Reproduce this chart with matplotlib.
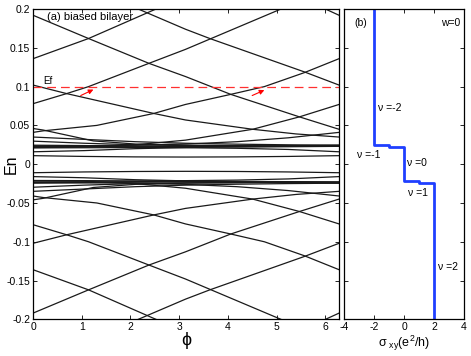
import numpy as np
import matplotlib.pyplot as plt

plt.rcParams['font.family'] = ['Liberation Sans', 'DejaVu Sans']
plt.rcParams['axes.unicode_minus'] = False
plt.rcParams['mathtext.default'] = 'regular'

# ---- panel (a): levels (upper half, E > 0) ----
# straight-ish levels, each as (phi, En) points
l0_phi = [5.90, 6.283]
l0_E = [0.203, 0.192]
l1_phi = [0, 1.14, 2.38, 3.13, 4.06, 5.47, 6.283]
l1_E = [0.192, 0.162, 0.130, 0.113, 0.090, 0.061, 0.045]
l2_phi = [0, 1.14, 2.45, 2.60]
l2_E = [0.136, 0.162, 0.198, 0.202]
l3_phi = [0, 0.69, 1.14, 2.38, 3.13, 5.09, 5.20]
l3_E = [0.078, 0.091, 0.100, 0.130, 0.148, 0.200, 0.203]
l4_phi = [2.05, 3.13, 3.63, 5.57, 6.283]
l4_E = [0.203, 0.174, 0.162, 0.119, 0.102]
l5_phi = [0, 0.21, 1.31, 2.48, 3.13, 4.06, 4.75, 5.57, 6.283]
l5_E = [0.041, 0.043, 0.050, 0.0654, 0.077, 0.090, 0.100, 0.118, 0.136]
l6_phi = [0, 0.69, 2.48, 3.13, 4.51, 5.40, 6.283]
l6_E = [0.102, 0.091, 0.0654, 0.057, 0.045, 0.039, 0.035]
l7_phi = [0, 1.05, 2.10, 3.13, 4.51, 5.47, 6.283]
l7_E = [0.0215, 0.022, 0.025, 0.031, 0.045, 0.061, 0.077]
l10_phi = [0, 0.21, 1.24, 2.10, 3.14, 4.19, 5.24, 6.283]
l10_E = [0.046, 0.044, 0.030, 0.026, 0.0245, 0.024, 0.0235, 0.0235]

# nearly flat levels in the dense band, on a common phi grid
band_phi = [0, 1.05, 2.10, 3.14, 4.19, 5.24, 6.283]
band_u1 = [0.0110, 0.0100, 0.0094, 0.0092, 0.0094, 0.0100, 0.0110]
band_u2 = [0.0160, 0.0175, 0.0200, 0.0215, 0.0225, 0.0230, 0.0235]
band_u3 = [0.0210, 0.0212, 0.0215, 0.0212, 0.0205, 0.0190, 0.0160]
band_u4 = [0.0230, 0.0228, 0.0225, 0.0222, 0.0222, 0.0225, 0.0230]
band_u5 = [0.0245, 0.0240, 0.0232, 0.0228, 0.0230, 0.0238, 0.0245]
band_u6 = [0.0297, 0.0270, 0.0250, 0.0240, 0.0235, 0.0232, 0.0230]
band_u7 = [0.0350, 0.0320, 0.0290, 0.0270, 0.0258, 0.0250, 0.0245]
band_u8 = [0.0235, 0.0238, 0.0245, 0.0260, 0.0290, 0.0340, 0.0410]

Ef = 0.1

# ---- panel (b): Hall conductance steps ----
sigma = [-2, -2, -1, -1, 0, 0, 1, 1, 2, 2]
sigma_E = [0.2, 0.0245, 0.0245, 0.0223, 0.0223, -0.0220, -0.0220, -0.0245, -0.0245, -0.2]
nu_labels = ['ν =-2', 'ν =-1', 'ν =0', 'ν =1', 'ν =2']
nu_x = [-1.75, -3.15, 0.2, 0.25, 2.25]
nu_y = [0.072, 0.0115, 0.0013, -0.037, -0.1325]

fig = plt.figure(figsize=(4.71, 3.56), dpi=100)
ax = fig.add_axes([0.0701, 0.103, 0.6497, 0.8716])
ax2 = fig.add_axes([0.7304, 0.103, 0.2548, 0.8716])

levels = [(l0_phi, l0_E), (l1_phi, l1_E), (l2_phi, l2_E), (l3_phi, l3_E),
          (l4_phi, l4_E), (l5_phi, l5_E), (l6_phi, l6_E), (l7_phi, l7_E),
          (l10_phi, l10_E)]
for b in [band_u1, band_u2, band_u3, band_u4, band_u5, band_u6, band_u7, band_u8]:
    levels.append((band_phi, b))

# spectrum is symmetric in En -> -En
for p, e in levels:
    e = np.array(e)
    ax.plot(p, e, color='#1a1a1a', lw=0.9)
    ax.plot(p, -e, color='#1a1a1a', lw=0.9)

ax.axhline(Ef, color='#ff3030', lw=0.9, ls=(0, (7, 4)))
ax.text(0.2, 0.103, 'Ef', fontsize=7)
arrow = dict(arrowstyle='-|>', color='red', lw=0.8, mutation_scale=7,
             shrinkA=0, shrinkB=0)
ax.annotate('', xy=(1.24, 0.0962), xytext=(0.98, 0.0885), arrowprops=arrow)
ax.annotate('', xy=(4.75, 0.0955), xytext=(4.50, 0.0885), arrowprops=arrow)
ax.text(0.29, 0.1895, '(a) biased bilayer', fontsize=8, va='center')

ax.set_xlim(0, 2 * np.pi)
ax.set_ylim(-0.2, 0.2)
ax.set_xticks([0, 1, 2, 3, 4, 5, 6])
ax.set_yticks([-0.2, -0.15, -0.1, -0.05, 0, 0.05, 0.1, 0.15, 0.2])
ax.set_yticklabels(['-0.2', '-0.15', '-0.1', '-0.05', '0', '0.05', '0.1', '0.15', '0.2'])
ax.set_xlabel('ϕ', fontsize=13, labelpad=0)
ax.set_ylabel('En', fontsize=11.5, va='center')
ax.yaxis.set_label_coords(-0.07, 0.5)

ax2.plot(sigma, sigma_E, color='#1f3fff', lw=2)
for lab, x, y in zip(nu_labels, nu_x, nu_y):
    ax2.text(x, y, lab, fontsize=7.5, va='center')
ax2.text(-3.3, 0.182, '(b)', fontsize=7.5, va='center')
ax2.text(3.75, 0.182, 'w=0', fontsize=7.5, va='center', ha='right')
ax2.set_xlim(-4, 4)
ax2.set_ylim(-0.2, 0.2)
ax2.set_xticks([-4, -2, 0, 2, 4])
ax2.set_yticks([-0.2, -0.15, -0.1, -0.05, 0, 0.05, 0.1, 0.15, 0.2])
ax2.set_yticklabels([])
ax2.set_xlabel(r'$\sigma_{\ xy}(e^2/h)$', fontsize=9, labelpad=1)

for a in (ax, ax2):
    a.tick_params(direction='in', top=True, right=True, labelsize=7.5,
                  length=3, width=0.6, pad=2)
    for s in a.spines.values():
        s.set_linewidth(0.9)

fig.savefig('out.png', dpi=100)
